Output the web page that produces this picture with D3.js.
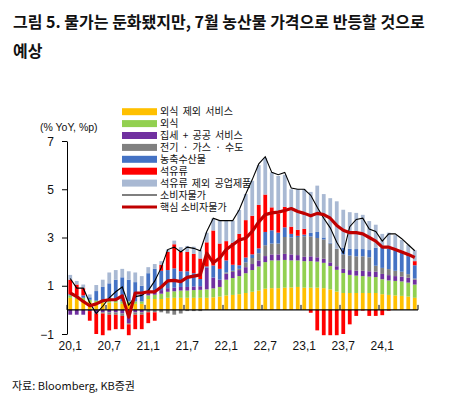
<!DOCTYPE html>
<html><head><meta charset="utf-8">
<script src="https://cdn.jsdelivr.net/npm/d3@7"></script>
<style>body{margin:0;background:#fff}svg{display:block}</style>
</head><body>
<svg id="c" width="455" height="406"></svg>
<script>
// ---- data ----
const categories = [];
for (const yy of [20,21,22,23,24]) for (let m = 1; m <= 12; m++) { if (yy === 24 && m > 6) break; categories.push(yy + "." + m); }
const tickCats = ["20.1","20.7","21.1","21.7","22.1","22.7","23.1","23.7","24.1"];
const tickLabels = ["20,1","20,7","21,1","21,7","22,1","22,7","23,1","23,7","24,1"];
const yTicks = [-1,1,3,5,7];

const svcExDining = [.5,.45,.4,.32,.3,.3,.3,.3,.25,.25,.25,.25, .45,.45,.45,.5,.5,.5,.5,.5,.5,.5,.52,.55, .6,.62,.65,.7,.75,.8,.88,.9,.9,.92,.93,.95, .92,.92,.92,.9,.85,.76,.7,.7,.7,.7,.7,.7, .65,.62,.6,.58,.55,.5];
const dining      = [.1,.1,.1,.1,.08,.1,.1,.1,.1,.1,.1,.1, .15,.18,.22,.25,.27,.3,.3,.32,.33,.35,.37,.4, .65,.7,.75,.82,.9,1.0,1.1,1.15,1.15,1.15,1.12,1.1, 1.1,1.1,1.08,1.05,.97,.9,.83,.75,.72,.7,.68,.66, .62,.6,.6,.6,.58,.55];
const rentPublic  = [-.2,-.2,-.2,-.05,-.15,-.1,-.1,-.1,-.15,-.55,-.1,-.1, .12,.12,.15,.15,.15,.15,.15,.15,.15,.9,.45,.3, .25,.25,.25,.25,.25,.25,.25,.25,.25,.25,.25,.22, .18,.2,.18,.17,.15,.15,.17,.2,.2,.22,.22,.22, .22,.22,.2,.2,.2,.2];
const utilities   = [0,0,0,0,0,-.05,-.1,-.1,-.1,-.05,-.1,-.1, -.1,-.1,-.1,-.15,-.2,-.15,-.05,-.05,-.05,0,0,0, .05,.05,.05,.2,.25,.3,.45,.45,.45,.7,.7,.75, .85,.82,.8,.8,.78,.72,.6,.6,.6,.6,.58,.25, .25,.25,.22,.2,.15,.05];
const agri        = [.05,.05,.1,.1,.4,.55,.7,.85,1.0,.9,.8,.65, .8,.95,.8,.75,.8,.65,.65,.55,.3,.05,.5,.45, .5,.25,.15,.2,.15,.2,.55,.55,.45,.4,.15,.05, .07,.15,.25,.08,.03,0,.28,.28,.3,.3,.3,.75, .85,.85,.88,.82,.75,.55];
const oil         = [.6,.45,.3,-.4,-.85,-.9,-.65,-.6,-.55,-.45,-.6,-.6, -.45,-.35,.25,.75,1.0,.8,.8,.8,.85,1.0,1.45,1.05, .8,.9,1.3,1.55,1.6,1.8,1.55,.95,.8,.85,.3,.25, .24,-.12,-.85,-1.05,-1.05,-1.05,-1.0,-.6,-.25,-.03,-.25,-.25, -.22,-.03,0,0,.05,.17];
const indGoods    = [.2,.15,.15,.12,.25,.3,.45,.4,.35,.35,.4,.4, .25,.2,.15,.1,.15,.2,.25,.3,.35,.4,.5,.95, .85,.93,1.0,1.08,1.45,1.65,1.52,1.45,1.55,1.33,1.55,1.68, 1.64,1.7,1.92,1.8,1.85,1.97,1.57,1.52,1.5,1.42,1.2,.95, .56,.66,.6,.5,.42,.45];
const cpi         = [1.3,.9,.9,.3,-.15,.15,.5,.75,.95,.2,.55,.6, .8,1.2,1.75,2.5,2.6,2.4,2.6,2.55,2.45,3.25,3.8,3.7, 3.7,3.7,4.15,4.8,5.4,6.05,6.35,5.7,5.6,5.7,5.05,5.0, 5.0,4.75,4.25,3.8,3.4,2.8,2.35,3.45,3.75,3.8,3.35,3.25, 2.85,3.15,3.15,2.95,2.7,2.45];
const coreCpi     = [.7,.55,.35,.17,.25,.38,.42,.42,.58,-.3,.7,.7, .75,.75,.95,1.2,1.22,1.17,1.35,1.4,1.45,2.35,1.95,2.15, 2.5,2.7,2.9,2.97,3.25,3.65,3.95,4.02,4.05,4.12,4.2,4.08, 4.0,3.9,4.0,3.95,3.8,3.5,3.3,3.2,3.2,3.15,3.0,2.85, 2.6,2.6,2.5,2.4,2.3,2.17];

const seriesNames = ["외식 제외 서비스","외식","집세 + 공공 서비스","전기 · 가스 · 수도","농축수산물","석유류","석유류 제외 공업제품"];
const seriesData = [svcExDining, dining, rentPublic, utilities, agri, oil, indGoods];
const colors = ["#FFC000","#92D050","#7030A0","#808080","#4472C4","#FF0000","#A9B9D3"];
const lineNames = ["소비자물가","핵심 소비자물가"];

// ---- chart ----
const svg = d3.select("#c");
const KR = "'Noto Sans CJK KR','Noto Sans',sans-serif";
const LAT = "'Liberation Sans',Arial,sans-serif";

const x = d3.scaleBand().domain(categories).range([67, 418]).paddingInner(0.42).paddingOuter(0.21);
const y = d3.scaleLinear().domain([-1, 7]).range([334, 141]);
const xi = d3.scaleLinear().domain([0, categories.length]).range([67, 418]);

const rows = categories.map((c, i) => { const r = {cat: c}; seriesNames.forEach((n, k) => r[n] = seriesData[k][i]); return r; });
const stacked = d3.stack().keys(seriesNames).offset(d3.stackOffsetDiverging)(rows);

// title
svg.append("text").attr("x", 13).attr("y", 28).attr("font-family", KR).attr("font-weight", 700).attr("font-size", 16).attr("fill", "#111")
  .text("그림 5. 물가는 둔화됐지만, 7월 농산물 가격으로 반등할 것으로");
svg.append("text").attr("x", 13).attr("y", 57).attr("font-family", KR).attr("font-weight", 700).attr("font-size", 16).attr("fill", "#111")
  .text("예상");

// bars
svg.append("g").selectAll("g").data(stacked).join("g").attr("fill", (d, i) => colors[i])
  .selectAll("rect").data(d => d).join("rect")
  .attr("x", d => x(d.data.cat))
  .attr("width", x.bandwidth())
  .attr("y", d => y(Math.max(d[0], d[1])))
  .attr("height", d => Math.abs(y(d[0]) - y(d[1])));

// y axis
const yAxis = svg.append("g").attr("transform", "translate(67,0)")
  .call(d3.axisLeft(y).tickValues(yTicks).tickSize(5).tickSizeOuter(0).tickPadding(8).tickFormat(d3.format("d")));
yAxis.select(".domain").attr("stroke", "#000");
yAxis.selectAll(".tick line").attr("stroke", "#000");
yAxis.selectAll("text").attr("font-family", LAT).attr("font-size", 12).attr("fill", "#111").attr("dy", "0.35em");

// x axis line at zero
const xg = svg.append("g");
xg.append("line").attr("x1", 67).attr("x2", 418).attr("y1", y(0)).attr("y2", y(0)).attr("stroke", "#000").attr("stroke-width", 1.2);
xg.selectAll("line.t").data(d3.range(0, categories.length + 1, 6)).join("line").attr("class", "t")
  .attr("x1", d => xi(d)).attr("x2", d => xi(d)).attr("y1", y(0)).attr("y2", y(0) - 5).attr("stroke", "#000");
xg.selectAll("text").data(tickCats).join("text")
  .attr("x", d => x(d) + x.bandwidth() / 2).attr("y", 350).attr("text-anchor", "middle")
  .attr("font-family", LAT).attr("font-size", 12).attr("fill", "#111")
  .text((d, i) => tickLabels[i]);

// lines
const lx = (d, i) => x(categories[i]) + x.bandwidth() / 2;
svg.append("path").datum(cpi).attr("fill", "none").attr("stroke", "#000").attr("stroke-width", 1.1)
  .attr("d", d3.line().x(lx).y(d => y(d)));
svg.append("path").datum(coreCpi).attr("fill", "none").attr("stroke", "#C00000").attr("stroke-width", 3.2).attr("stroke-linejoin", "round")
  .attr("d", d3.line().x(lx).y(d => y(d)));

// y title
svg.append("text").attr("x", 40).attr("y", 131).attr("font-family", LAT).attr("font-size", 10.5).attr("fill", "#111").text("(% YoY, %p)");

// legend
const lg = svg.append("g");
const rowY = i => 111.7 + i * 11.9;
seriesNames.forEach((n, i) => {
  lg.append("rect").attr("x", 122).attr("y", rowY(i) - 3.5).attr("width", 35).attr("height", 7).attr("fill", colors[i]);
  lg.append("text").attr("x", 160).attr("y", rowY(i) + 3.6).attr("font-family", KR).attr("font-size", 10).attr("word-spacing", "2px").attr("fill", "#111").text(n);
});
lineNames.forEach((n, j) => {
  const yy = rowY(7 + j);
  lg.append("line").attr("x1", 122).attr("x2", 157).attr("y1", yy).attr("y2", yy).attr("stroke", j ? "#C00000" : "#000").attr("stroke-width", j ? 3 : 1.2);
  lg.append("text").attr("x", 160).attr("y", yy + 3.6).attr("font-family", KR).attr("font-size", 10).attr("fill", "#111").text(n);
});

// source
svg.append("text").attr("x", 12).attr("y", 390).attr("font-family", KR).attr("font-size", 11).attr("fill", "#111").text("자료: Bloomberg, KB증권");
</script>
</body></html>
